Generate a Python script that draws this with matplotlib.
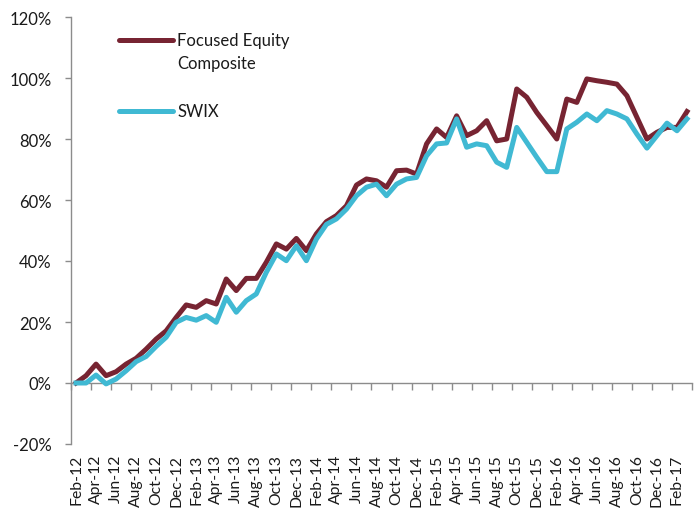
import matplotlib
matplotlib.use("Agg")
import matplotlib.pyplot as plt
import numpy as np
from matplotlib.ticker import FixedLocator, FuncFormatter

# ---- data ----
months = ["Feb-12","Mar-12","Apr-12","May-12","Jun-12","Jul-12","Aug-12","Sep-12","Oct-12","Nov-12","Dec-12","Jan-13",
          "Feb-13","Mar-13","Apr-13","May-13","Jun-13","Jul-13","Aug-13","Sep-13","Oct-13","Nov-13","Dec-13","Jan-14",
          "Feb-14","Mar-14","Apr-14","May-14","Jun-14","Jul-14","Aug-14","Sep-14","Oct-14","Nov-14","Dec-14","Jan-15",
          "Feb-15","Mar-15","Apr-15","May-15","Jun-15","Jul-15","Aug-15","Sep-15","Oct-15","Nov-15","Dec-15","Jan-16",
          "Feb-16","Mar-16","Apr-16","May-16","Jun-16","Jul-16","Aug-16","Sep-16","Oct-16","Nov-16","Dec-16","Jan-17",
          "Feb-17","Mar-17"]

focused = [0.0, 2.4, 6.2, 2.4, 3.7, 6.2, 8.1, 11.1, 14.4, 17.1, 21.5, 25.6,
           24.8, 27.0, 25.9, 34.1, 30.3, 34.3, 34.3, 39.6, 45.6, 43.9, 47.4, 43.4,
           48.9, 52.9, 54.9, 58.1, 64.9, 66.9, 66.3, 64.2, 69.6, 69.8, 68.5, 78.4,
           83.3, 80.5, 87.6, 81.1, 82.7, 86.0, 79.4, 80.0, 96.4, 93.7, 88.7, 84.4,
           80.0, 93.1, 92.0, 99.7, 99.1, 98.6, 98.0, 94.2, 87.1, 80.0, 82.2, 83.8,
           83.8, 89.0]

swix = [0.0, 0.0, 2.6, -0.3, 1.3, 4.0, 7.0, 8.7, 12.0, 15.0, 19.9, 21.5,
        20.6, 22.1, 19.9, 28.1, 23.2, 27.0, 29.2, 36.3, 42.3, 40.1, 45.0, 40.1,
        47.2, 52.0, 53.8, 57.0, 61.4, 64.2, 65.2, 61.4, 65.2, 66.9, 67.4, 74.5,
        78.4, 78.7, 86.6, 77.3, 78.4, 77.8, 72.4, 70.7, 83.8, 78.9, 74.0, 69.3,
        69.3, 83.3, 85.5, 88.2, 86.0, 89.3, 88.2, 86.6, 81.6, 77.0, 81.1, 85.2,
        82.7, 86.6]

series_names = ["Focused Equity\nComposite", "SWIX"]
yticks = [-20, 0, 20, 40, 60, 80, 100, 120]

c_focus = "#772432"
c_swix = "#40B9D3"
axis_gray = "#8C8C8C"
text_col = "#1a1a1a"
FS = 12
FSX = 11.3
LW = 3.6

plt.rcParams['font.family'] = ['Lato', 'DejaVu Sans']

fig = plt.figure(figsize=(6.94, 5.10), dpi=100)
ax = fig.add_axes([71/694, 1-445/510, (692-71)/694, (445-18)/510])

x = np.arange(len(months))
ax.plot(x, focused, color=c_focus, lw=LW, zorder=2)
ax.plot(x, swix, color=c_swix, lw=LW, zorder=3)
ax.set_xlim(-0.5, len(months) - 0.5)
ax.set_ylim(-20, 120)

# y axis
ax.set_yticks(yticks)
ax.yaxis.set_major_formatter(FuncFormatter(lambda v, p: f"{int(v)}%"))
ax.tick_params(axis='y', direction='out', length=4, width=1, color=axis_gray,
               pad=10, labelsize=FS, labelcolor=text_col)

# x axis at zero, labels low
for s in ['top', 'right']:
    ax.spines[s].set_visible(False)
ax.spines['left'].set_color(axis_gray)
ax.spines['bottom'].set_color(axis_gray)
ax.spines['bottom'].set_position(('data', 0))
ax.spines['left'].set_linewidth(1)
ax.spines['bottom'].set_linewidth(1)

ax.xaxis.set_major_locator(FixedLocator(x[::2]))
ax.set_xticklabels(months[::2], rotation=90)
ax.xaxis.set_minor_locator(FixedLocator(np.arange(-0.5, len(months), 2)))
ax.tick_params(axis='x', which='major', length=0, pad=51, labelsize=FSX, labelcolor=text_col)
ax.tick_params(axis='x', which='minor', direction='out', length=5, width=1, color=axis_gray)
for lbl in ax.get_xticklabels():
    lbl.set_va('top')
    lbl.set_ha('center')

# legend (manual)
t = ax.transAxes
def ax_xy(px, py):
    return ((px - 71) / (692 - 71), (445 - py) / (445 - 18))
x0, _ = ax_xy(119, 0)
x1, _ = ax_xy(173, 0)
xt, _ = ax_xy(177, 0)
_, yf = ax_xy(0, 41)
_, yc = ax_xy(0, 64)
_, ys = ax_xy(0, 112)
ax.plot([x0, x1], [yf, yf], transform=t, color=c_focus, lw=LW, solid_capstyle='round', clip_on=False)
ax.plot([x0, x1], [ys, ys], transform=t, color=c_swix, lw=LW, solid_capstyle='round', clip_on=False)
lines = series_names[0].split("\n")
ax.text(xt, yf, lines[0], transform=t, fontsize=FS, color=text_col, va='center', ha='left')
ax.text(xt, yc, lines[1], transform=t, fontsize=FS, color=text_col, va='center', ha='left')
ax.text(xt, ys, series_names[1], transform=t, fontsize=FS, color=text_col, va='center', ha='left')

fig.savefig("out.png", dpi=100)
